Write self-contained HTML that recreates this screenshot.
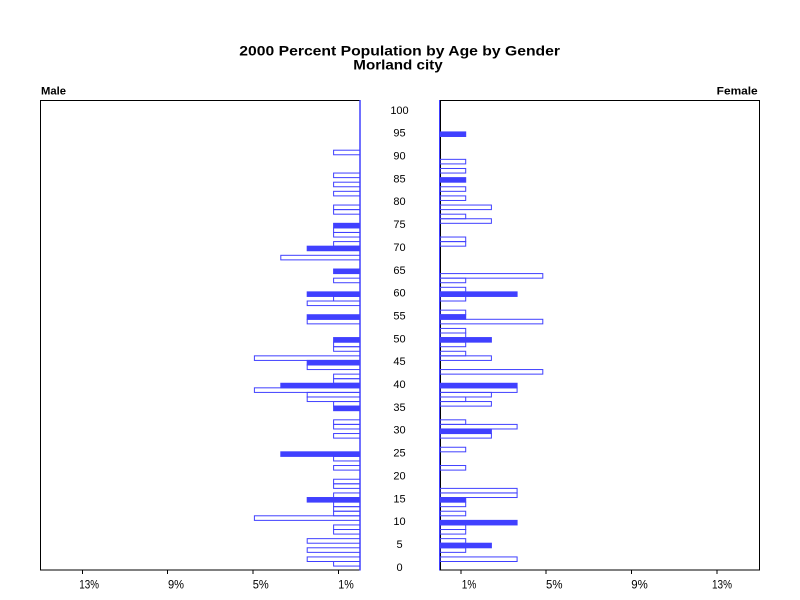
<!DOCTYPE html>
<html><head><meta charset="utf-8"><style>
html,body{margin:0;padding:0;background:#fff;}
svg{display:block;}
text{font-family:"Liberation Sans",Arial,sans-serif;fill:#000;}
</style></head><body>
<svg width="800" height="600" viewBox="0 0 800 600" xmlns="http://www.w3.org/2000/svg">
<rect x="0" y="0" width="800" height="600" fill="#fff"/>
<text x="239.3" y="55.3" font-size="14" font-weight="bold" textLength="320.7" lengthAdjust="spacingAndGlyphs">2000 Percent Population by Age by Gender</text>
<text x="353.3" y="69.5" font-size="14" font-weight="bold" textLength="89.4" lengthAdjust="spacingAndGlyphs">Morland city</text>
<text x="41" y="94.5" font-size="11" font-weight="bold" textLength="25" lengthAdjust="spacingAndGlyphs">Male</text>
<text x="716.7" y="94.5" font-size="11" font-weight="bold" textLength="41" lengthAdjust="spacingAndGlyphs">Female</text>

<rect x="40.5" y="100.5" width="319.5" height="469.5" fill="none" stroke="#000" stroke-width="1"/>
<rect x="440.5" y="100.5" width="319" height="469.5" fill="none" stroke="#000" stroke-width="1"/>

<g stroke="#000" stroke-width="1">
<line x1="82.5" y1="570" x2="82.5" y2="574"/>
<line x1="167.5" y1="570" x2="167.5" y2="574"/>
<line x1="253" y1="570" x2="253" y2="574"/>
<line x1="338.5" y1="570" x2="338.5" y2="574"/>
<line x1="461" y1="570" x2="461" y2="574"/>
<line x1="546" y1="570" x2="546" y2="574"/>
<line x1="631.5" y1="570" x2="631.5" y2="574"/>
<line x1="717" y1="570" x2="717" y2="574"/>
</g>
<g font-size="12">
<text x="79.3" y="588.3" textLength="19.7" lengthAdjust="spacingAndGlyphs">13%</text>
<text x="168" y="588.3" textLength="16" lengthAdjust="spacingAndGlyphs">9%</text>
<text x="252.7" y="588.3" textLength="16" lengthAdjust="spacingAndGlyphs">5%</text>
<text x="338.3" y="588.3" textLength="15.5" lengthAdjust="spacingAndGlyphs">1%</text>
<text x="461.8" y="588.3" textLength="14.5" lengthAdjust="spacingAndGlyphs">1%</text>
<text x="546" y="588.3" textLength="16.5" lengthAdjust="spacingAndGlyphs">5%</text>
<text x="631.3" y="588.3" textLength="16.5" lengthAdjust="spacingAndGlyphs">9%</text>
<text x="712" y="588.3" textLength="20" lengthAdjust="spacingAndGlyphs">13%</text>
</g>

<g font-size="11" text-anchor="middle">
<text x="399.5" y="570.8">0</text>
<text x="399.5" y="547.95">5</text>
<text x="399.5" y="525.1">10</text>
<text x="399.5" y="502.25">15</text>
<text x="399.5" y="479.4">20</text>
<text x="399.5" y="456.55">25</text>
<text x="399.5" y="433.7">30</text>
<text x="399.5" y="410.85">35</text>
<text x="399.5" y="388">40</text>
<text x="399.5" y="365.15">45</text>
<text x="399.5" y="342.3">50</text>
<text x="399.5" y="319.45">55</text>
<text x="399.5" y="296.6">60</text>
<text x="399.5" y="273.75">65</text>
<text x="399.5" y="250.9">70</text>
<text x="399.5" y="228.05">75</text>
<text x="399.5" y="205.2">80</text>
<text x="399.5" y="182.35">85</text>
<text x="399.5" y="159.5">90</text>
<text x="399.5" y="136.65">95</text>
<text x="399.5" y="113.8">100</text>
</g>

<g fill="none" stroke="#4040ff" stroke-width="1">
<rect x="333.6" y="561.50" width="26.4" height="4.57"/>
<rect x="307.2" y="556.93" width="52.8" height="4.57"/>
<rect x="307.2" y="547.79" width="52.8" height="4.57"/>
<rect x="307.2" y="538.65" width="52.8" height="4.57"/>
<rect x="333.6" y="529.51" width="26.4" height="4.57"/>
<rect x="333.6" y="524.94" width="26.4" height="4.57"/>
<rect x="254.4" y="515.80" width="105.6" height="4.57"/>
<rect x="333.6" y="511.23" width="26.4" height="4.57"/>
<rect x="333.6" y="506.66" width="26.4" height="4.57"/>
<rect x="333.6" y="502.09" width="26.4" height="4.57"/>
<rect x="333.6" y="492.95" width="26.4" height="4.57"/>
<rect x="333.6" y="483.81" width="26.4" height="4.57"/>
<rect x="333.6" y="479.24" width="26.4" height="4.57"/>
<rect x="333.6" y="465.53" width="26.4" height="4.57"/>
<rect x="333.6" y="456.39" width="26.4" height="4.57"/>
<rect x="333.6" y="433.54" width="26.4" height="4.57"/>
<rect x="333.6" y="424.40" width="26.4" height="4.57"/>
<rect x="333.6" y="419.83" width="26.4" height="4.57"/>
<rect x="333.6" y="401.55" width="26.4" height="4.57"/>
<rect x="307.2" y="396.98" width="52.8" height="4.57"/>
<rect x="307.2" y="392.41" width="52.8" height="4.57"/>
<rect x="254.4" y="387.84" width="105.6" height="4.57"/>
<rect x="333.6" y="378.70" width="26.4" height="4.57"/>
<rect x="333.6" y="374.13" width="26.4" height="4.57"/>
<rect x="307.2" y="364.99" width="52.8" height="4.57"/>
<rect x="254.4" y="355.85" width="105.6" height="4.57"/>
<rect x="333.6" y="346.71" width="26.4" height="4.57"/>
<rect x="333.6" y="342.14" width="26.4" height="4.57"/>
<rect x="307.2" y="319.29" width="52.8" height="4.57"/>
<rect x="307.2" y="301.01" width="52.8" height="4.57"/>
<rect x="333.6" y="296.44" width="26.4" height="4.57"/>
<rect x="333.6" y="278.16" width="26.4" height="4.57"/>
<rect x="280.8" y="255.31" width="79.2" height="4.57"/>
<rect x="333.6" y="241.60" width="26.4" height="4.57"/>
<rect x="333.6" y="232.46" width="26.4" height="4.57"/>
<rect x="333.6" y="227.89" width="26.4" height="4.57"/>
<rect x="333.6" y="209.61" width="26.4" height="4.57"/>
<rect x="333.6" y="205.04" width="26.4" height="4.57"/>
<rect x="333.6" y="191.33" width="26.4" height="4.57"/>
<rect x="333.6" y="182.19" width="26.4" height="4.57"/>
<rect x="333.6" y="173.05" width="26.4" height="4.57"/>
<rect x="333.6" y="150.20" width="26.4" height="4.57"/>
</g>
<g fill="#4040ff" stroke="#4040ff" stroke-width="1">
<rect x="307.2" y="497.52" width="52.8" height="4.57"/>
<rect x="280.8" y="451.82" width="79.2" height="4.57"/>
<rect x="333.6" y="406.12" width="26.4" height="4.57"/>
<rect x="280.8" y="383.27" width="79.2" height="4.57"/>
<rect x="307.2" y="360.42" width="52.8" height="4.57"/>
<rect x="333.6" y="337.57" width="26.4" height="4.57"/>
<rect x="307.2" y="314.72" width="52.8" height="4.57"/>
<rect x="307.2" y="291.87" width="52.8" height="4.57"/>
<rect x="333.6" y="269.02" width="26.4" height="4.57"/>
<rect x="307.2" y="246.17" width="52.8" height="4.57"/>
<rect x="333.6" y="223.32" width="26.4" height="4.57"/>
</g>

<g fill="none" stroke="#4040ff" stroke-width="1">
<rect x="440" y="556.93" width="77.1" height="4.57"/>
<rect x="440" y="547.79" width="25.7" height="4.57"/>
<rect x="440" y="538.65" width="25.7" height="4.57"/>
<rect x="440" y="529.51" width="25.7" height="4.57"/>
<rect x="440" y="524.94" width="25.7" height="4.57"/>
<rect x="440" y="511.23" width="25.7" height="4.57"/>
<rect x="440" y="502.09" width="25.7" height="4.57"/>
<rect x="440" y="492.95" width="77.1" height="4.57"/>
<rect x="440" y="488.38" width="77.1" height="4.57"/>
<rect x="440" y="465.53" width="25.7" height="4.57"/>
<rect x="440" y="447.25" width="25.7" height="4.57"/>
<rect x="440" y="433.54" width="51.4" height="4.57"/>
<rect x="440" y="424.40" width="77.1" height="4.57"/>
<rect x="440" y="419.83" width="25.7" height="4.57"/>
<rect x="440" y="401.55" width="51.4" height="4.57"/>
<rect x="440" y="396.98" width="25.7" height="4.57"/>
<rect x="440" y="392.41" width="51.4" height="4.57"/>
<rect x="440" y="387.84" width="77.1" height="4.57"/>
<rect x="440" y="369.56" width="102.8" height="4.57"/>
<rect x="440" y="355.85" width="51.4" height="4.57"/>
<rect x="440" y="351.28" width="25.7" height="4.57"/>
<rect x="440" y="342.14" width="25.7" height="4.57"/>
<rect x="440" y="333.00" width="25.7" height="4.57"/>
<rect x="440" y="328.43" width="25.7" height="4.57"/>
<rect x="440" y="319.29" width="102.8" height="4.57"/>
<rect x="440" y="310.15" width="25.7" height="4.57"/>
<rect x="440" y="296.44" width="25.7" height="4.57"/>
<rect x="440" y="287.30" width="25.7" height="4.57"/>
<rect x="440" y="278.16" width="25.7" height="4.57"/>
<rect x="440" y="273.59" width="102.8" height="4.57"/>
<rect x="440" y="241.60" width="25.7" height="4.57"/>
<rect x="440" y="237.03" width="25.7" height="4.57"/>
<rect x="440" y="218.75" width="51.4" height="4.57"/>
<rect x="440" y="214.18" width="25.7" height="4.57"/>
<rect x="440" y="205.04" width="51.4" height="4.57"/>
<rect x="440" y="195.90" width="25.7" height="4.57"/>
<rect x="440" y="186.76" width="25.7" height="4.57"/>
<rect x="440" y="168.48" width="25.7" height="4.57"/>
<rect x="440" y="159.34" width="25.7" height="4.57"/>
</g>
<g fill="#4040ff" stroke="#4040ff" stroke-width="1">
<rect x="440" y="543.22" width="51.4" height="4.57"/>
<rect x="440" y="520.37" width="77.1" height="4.57"/>
<rect x="440" y="497.52" width="25.7" height="4.57"/>
<rect x="440" y="428.97" width="51.4" height="4.57"/>
<rect x="440" y="383.27" width="77.1" height="4.57"/>
<rect x="440" y="337.57" width="51.4" height="4.57"/>
<rect x="440" y="314.72" width="25.7" height="4.57"/>
<rect x="440" y="291.87" width="77.1" height="4.57"/>
<rect x="440" y="177.62" width="25.7" height="4.57"/>
<rect x="440" y="131.92" width="25.7" height="4.57"/>
</g>

<line x1="360" y1="100" x2="360" y2="570.5" stroke="#4040ff" stroke-width="1.5"/>
<line x1="439.5" y1="100" x2="439.5" y2="570.5" stroke="#4040ff" stroke-width="1"/>
</svg>
</body></html>
